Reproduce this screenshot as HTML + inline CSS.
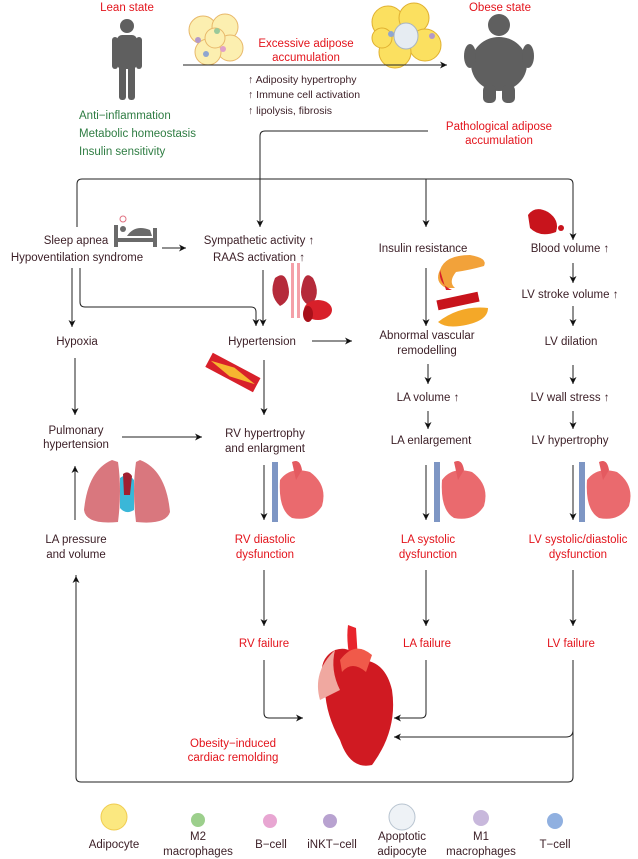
<!DOCTYPE html>
<html><head><meta charset="utf-8"><style>
html,body{margin:0;padding:0;background:#fff;}
svg{display:block;}
text{font-family:"Liberation Sans",sans-serif;font-size:11.5px;text-anchor:middle;fill:#3b1e26;}
.r{fill:#e3141c;}
.g{fill:#2f7d43;text-anchor:start;}
.s{text-anchor:start;font-size:10.5px;}
.l{fill:none;stroke:#222;stroke-width:1;}
</style></head><body>
<svg width="638" height="859" viewBox="0 0 638 859" xmlns="http://www.w3.org/2000/svg">
<defs><marker id="a" markerWidth="8" markerHeight="8" refX="7" refY="4" orient="auto" markerUnits="userSpaceOnUse"><path d="M0,0.5 L7,4 L0,7.5 L2,4z" fill="#111"/></marker></defs>

<text x="127" y="11" class="r">Lean state</text>
<text x="500" y="11" class="r">Obese state</text>
<g fill="#5f5f5f"><circle cx="127" cy="26" r="7"/><rect x="117" y="35" width="20" height="34" rx="5"/><rect x="112" y="37" width="6" height="32" rx="3"/><rect x="136" y="37" width="6" height="32" rx="3"/><rect x="119" y="62" width="7" height="38" rx="3"/><rect x="128" y="62" width="7" height="38" rx="3"/></g>
<g fill="#5f5f5f"><circle cx="499" cy="25" r="11"/><ellipse cx="499" cy="64" rx="28" ry="27"/><ellipse cx="470" cy="56" rx="6" ry="12"/><ellipse cx="528" cy="56" rx="6" ry="12"/><rect x="483" y="85" width="13" height="18" rx="5"/><rect x="502" y="85" width="13" height="18" rx="5"/></g>
<g stroke="#e8b86a" stroke-width="1" fill="#fcefb0"><circle cx="203" cy="30" r="14"/><circle cx="225" cy="27" r="13"/><circle cx="230" cy="48" r="13"/><circle cx="208" cy="52" r="13"/><circle cx="215" cy="38" r="10"/></g>
<circle cx="198" cy="40" r="3" fill="#b39ac9"/><circle cx="217" cy="31" r="3" fill="#9ac99a"/><circle cx="223" cy="49" r="3" fill="#e0a0c8"/><circle cx="206" cy="54" r="3" fill="#8fa6d0"/>
<g stroke="#e0b030" stroke-width="1" fill="#fbe060"><circle cx="388" cy="22" r="16"/><circle cx="414" cy="18" r="15"/><circle cx="425" cy="45" r="16"/><circle cx="395" cy="52" r="16"/><circle cx="382" cy="38" r="10"/></g>
<ellipse cx="406" cy="36" rx="12" ry="13" fill="#e6ecf2" stroke="#a9b4c0"/><circle cx="391" cy="34" r="3" fill="#8fa6d0"/><circle cx="432" cy="36" r="3" fill="#b39ac9"/>
<text x="306" y="47" class="r">Excessive adipose</text>
<text x="306" y="61" class="r">accumulation</text>
<line x1="183" y1="65" x2="447" y2="65" class="l" marker-end="url(#a)"/>
<text x="248" y="83" class="s">↑ Adiposity hypertrophy</text>
<text x="248" y="98" class="s">↑ Immune cell activation</text>
<text x="248" y="114" class="s">↑ lipolysis, fibrosis</text>
<text x="79" y="119" class="g">Anti−inflammation</text>
<text x="79" y="137" class="g">Metabolic homeostasis</text>
<text x="79" y="155" class="g">Insulin sensitivity</text>
<text x="499" y="130" class="r">Pathological adipose</text>
<text x="499" y="144" class="r">accumulation</text>

<path d="M428 131 H265 Q260 131 260 136 V227" class="l" marker-end="url(#a)"/>
<path d="M77 227 V184 Q77 179 82 179 H568 Q573 179 573 184 V240" class="l" marker-end="url(#a)"/>
<line x1="426" y1="179" x2="426" y2="227" class="l" marker-end="url(#a)"/>

<text x="76" y="244">Sleep apnea</text>
<text x="77" y="261">Hypoventilation syndrome</text>
<g fill="#6a6a6a"><rect x="114" y="225" width="4" height="22"/><rect x="153" y="228" width="4" height="19"/><rect x="114" y="238" width="43" height="4"/><circle cx="123" cy="229" r="3"/><path d="M127 236 Q135 224 150 230 L152 236z"/></g>
<circle cx="123" cy="219" r="3" fill="none" stroke="#e07080"/>
<line x1="162" y1="248" x2="186" y2="248" class="l" marker-end="url(#a)"/>
<text x="259" y="244">Sympathetic activity ↑</text>
<text x="259" y="261">RAAS activation ↑</text>
<text x="423" y="252">Insulin resistance</text>
<text x="570" y="252">Blood volume ↑</text>
<path d="M528 215 Q535 205 548 212 Q560 220 556 232 Q540 238 530 228z" fill="#c8141c"/><circle cx="561" cy="228" r="3" fill="#c8141c"/>

<line x1="72" y1="268" x2="72" y2="327" class="l" marker-end="url(#a)"/>
<path d="M80 268 V302 Q80 307 85 307 H251 Q256 307 256 312 V326" class="l" marker-end="url(#a)"/>
<text x="77" y="345">Hypoxia</text>
<line x1="75" y1="358" x2="75" y2="415" class="l" marker-end="url(#a)"/>
<text x="76" y="434">Pulmonary</text>
<text x="76" y="448">hypertension</text>
<line x1="122" y1="437" x2="202" y2="437" class="l" marker-end="url(#a)"/>
<path d="M112 460 Q88 470 84 510 Q86 525 118 522 Q122 490 118 462z" fill="#d9777e"/>
<path d="M140 460 Q166 470 170 512 Q166 525 136 522 Q132 490 136 462z" fill="#d9777e"/>
<path d="M120 478 Q128 472 134 480 L134 510 Q126 515 120 508z" fill="#3ab7d8"/>
<path d="M123 474 Q128 470 132 476 L130 495 L124 495z" fill="#a02030"/>
<line x1="75" y1="520" x2="75" y2="466" class="l" marker-end="url(#a)"/>
<text x="76" y="543">LA pressure</text>
<text x="76" y="558">and volume</text>
<path d="M76 575 V777 Q76 782 81 782 H568 Q573 782 573 777 V660" class="l"/>
<line x1="76" y1="660" x2="76" y2="576" class="l" marker-end="url(#a)"/>

<line x1="263" y1="270" x2="263" y2="326" class="l" marker-end="url(#a)"/>
<g><path d="M275 278 Q268 295 280 306 Q292 300 288 285 Q285 270 275 278z" fill="#b52a3a"/><path d="M313 278 Q322 295 310 306 Q298 300 302 285 Q305 270 313 278z" fill="#b52a3a"/><rect x="291" y="263" width="3" height="55" fill="#f4a0a8"/><rect x="297" y="263" width="3" height="55" fill="#f4a0a8"/><ellipse cx="318" cy="310" rx="14" ry="10" fill="#d8202a"/><ellipse cx="308" cy="314" rx="5" ry="8" fill="#a8101a"/></g>
<text x="262" y="345">Hypertension</text>
<line x1="312" y1="341" x2="352" y2="341" class="l" marker-end="url(#a)"/>
<g transform="rotate(28 232 372)"><rect x="206" y="364" width="54" height="16" fill="#d8202a"/><path d="M208 372 L232 367 L258 372 L232 377z" fill="#f6b630"/></g>
<line x1="264" y1="360" x2="264" y2="415" class="l" marker-end="url(#a)"/>
<text x="265" y="437">RV hypertrophy</text>
<text x="265" y="452">and enlargment</text>
<line x1="264" y1="465" x2="264" y2="520" class="l" marker-end="url(#a)"/>
<text x="265" y="543" class="r">RV diastolic</text>
<text x="265" y="558" class="r">dysfunction</text>
<line x1="264" y1="570" x2="264" y2="626" class="l" marker-end="url(#a)"/>
<text x="264" y="647" class="r">RV failure</text>
<path d="M264 660 V713 Q264 718 269 718 H303" class="l" marker-end="url(#a)"/>

<line x1="426" y1="268" x2="426" y2="326" class="l" marker-end="url(#a)"/>
<path d="M440 270 Q445 255 470 255 Q488 258 484 266 Q470 270 456 272 Q448 282 455 288 L446 288 Q434 282 440 270z" fill="#f2a23a"/><path d="M440 270 Q438 284 452 290 L446 290z" fill="#d8202a"/>
<rect x="437" y="296" width="42" height="10" fill="#c8141c" transform="rotate(-12 458 301)"/>
<path d="M438 322 Q460 305 488 308 Q488 322 460 326 Q445 328 438 322z" fill="#f4a828"/>
<text x="427" y="339">Abnormal vascular</text>
<text x="427" y="354">remodelling</text>
<line x1="428" y1="364" x2="428" y2="384" class="l" marker-end="url(#a)"/>
<text x="428" y="401">LA volume ↑</text>
<line x1="428" y1="411" x2="428" y2="429" class="l" marker-end="url(#a)"/>
<text x="431" y="444">LA enlargement</text>
<line x1="426" y1="465" x2="426" y2="520" class="l" marker-end="url(#a)"/>
<text x="428" y="543" class="r">LA systolic</text>
<text x="428" y="558" class="r">dysfunction</text>
<line x1="426" y1="570" x2="426" y2="626" class="l" marker-end="url(#a)"/>
<text x="427" y="647" class="r">LA failure</text>
<path d="M426 660 V713 Q426 718 421 718 H394" class="l" marker-end="url(#a)"/>

<line x1="573" y1="263" x2="573" y2="283" class="l" marker-end="url(#a)"/>
<text x="570" y="298">LV stroke volume ↑</text>
<line x1="573" y1="306" x2="573" y2="326" class="l" marker-end="url(#a)"/>
<text x="571" y="345">LV dilation</text>
<line x1="573" y1="365" x2="573" y2="384" class="l" marker-end="url(#a)"/>
<text x="570" y="401">LV wall stress ↑</text>
<line x1="573" y1="411" x2="573" y2="429" class="l" marker-end="url(#a)"/>
<text x="570" y="444">LV hypertrophy</text>
<line x1="573" y1="465" x2="573" y2="520" class="l" marker-end="url(#a)"/>
<text x="578" y="543" class="r">LV systolic/diastolic</text>
<text x="578" y="558" class="r">dysfunction</text>
<line x1="573" y1="570" x2="573" y2="626" class="l" marker-end="url(#a)"/>
<text x="571" y="647" class="r">LV failure</text>
<path d="M573 730 Q573 737 566 737 H394" class="l" marker-end="url(#a)"/>

<g id="h"><rect x="272" y="462" width="6" height="60" fill="#7e96c4"/><path d="M280 480 Q290 466 310 472 Q328 485 322 506 Q312 522 292 518 Q278 510 280 480z" fill="#ea6a6e"/><path d="M292 462 Q300 458 302 470 L296 480z" fill="#e45a60"/></g>
<use href="#h" x="162"/><use href="#h" x="307"/>

<path d="M325 690 Q315 660 335 650 Q350 645 360 660 Q385 660 392 690 Q398 730 372 765 Q350 770 340 740 Q326 715 325 690z" fill="#d01a22"/>
<path d="M335 650 Q330 670 340 690 L320 700 Q312 672 335 650z" fill="#f0a8a0"/>
<path d="M348 625 Q346 640 350 660 L358 660 L356 628z" fill="#e8242c"/>
<path d="M340 660 Q355 640 372 655 L366 672 Q352 660 342 672z" fill="#f05a4a"/>
<text x="233" y="747" class="r">Obesity−induced</text>
<text x="233" y="761" class="r">cardiac remolding</text>

<circle cx="114" cy="817" r="13" fill="#fbe880" stroke="#f0cc50"/>
<circle cx="198" cy="820" r="7" fill="#9ccf8c"/>
<circle cx="270" cy="821" r="7" fill="#e8a6d2"/>
<circle cx="330" cy="821" r="7" fill="#b8a2d0"/>
<circle cx="402" cy="817" r="13" fill="#eef2f6" stroke="#b8c4d0"/>
<circle cx="481" cy="818" r="8" fill="#c8b8dc"/>
<circle cx="555" cy="821" r="8" fill="#90b0e0"/>
<text x="114" y="848">Adipocyte</text>
<text x="198" y="840">M2</text><text x="198" y="855">macrophages</text>
<text x="271" y="848">B−cell</text>
<text x="332" y="848">iNKT−cell</text>
<text x="402" y="840">Apoptotic</text><text x="402" y="855">adipocyte</text>
<text x="481" y="840">M1</text><text x="481" y="855">macrophages</text>
<text x="555" y="848">T−cell</text>
</svg>
</body></html>
